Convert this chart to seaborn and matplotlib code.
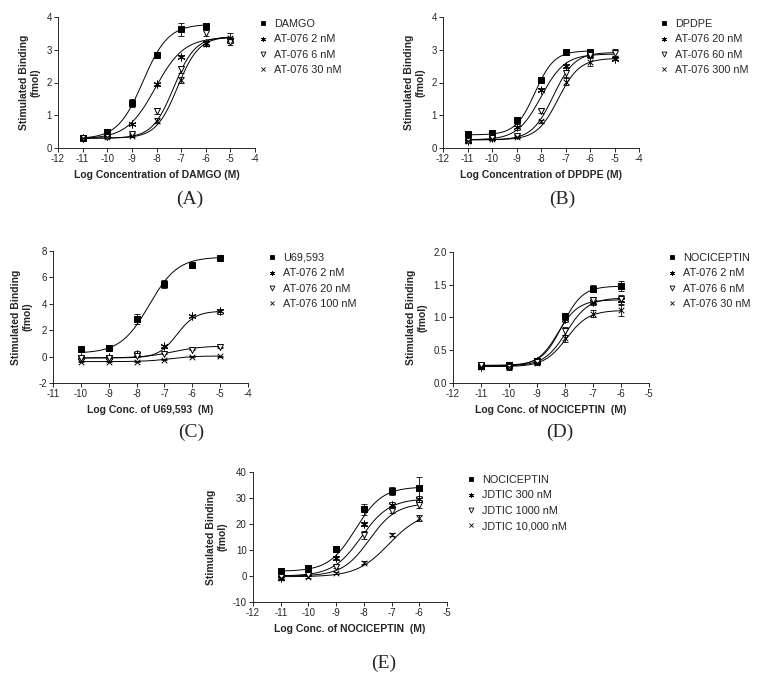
import numpy as np
import pandas as pd
import matplotlib
matplotlib.use("Agg")
import matplotlib.pyplot as plt
import seaborn as sns
from matplotlib.lines import Line2D

sns.set_style("ticks")
plt.rcParams['font.family'] = ['Liberation Sans', 'DejaVu Sans']
plt.rcParams['axes.unicode_minus'] = False

#--- (A) DAMGO --------------------------------------------------------------
A_labels = ["DAMGO", "AT-076 2 nM", "AT-076 6 nM", "AT-076 30 nM"]
A_x = [[-11, -10, -9, -8, -7, -6],
       [-11, -10, -9, -8, -7, -6, -5],
       [-11, -10, -9, -8, -7, -6, -5],
       [-11, -10, -9, -8, -7, -6, -5]]
A_y = [[0.31, 0.50, 1.38, 2.84, 3.63, 3.72],
       [0.30, 0.40, 0.73, 1.95, 2.79, 3.20, 3.30],
       [0.30, 0.35, 0.43, 1.13, 2.40, 3.52, 3.25],
       [0.30, 0.33, 0.37, 0.83, 2.08, 3.18, 3.35]]
A_err = [[0.03, 0.06, 0.13, 0.04, 0.20, 0.08],
         [0.02, 0.04, 0.04, 0.05, 0.05, 0.08, 0.10],
         [0.02, 0.03, 0.04, 0.08, 0.10, 0.10, 0.12],
         [0.02, 0.03, 0.03, 0.08, 0.10, 0.08, 0.15]]
# fitted curve parameters: bottom, top, logEC50, hill slope
A_fit = [(0.28, 3.78, -8.55, 0.85),
         (0.28, 3.38, -8.05, 0.75),
         (0.30, 3.40, -7.30, 1.00),
         (0.30, 3.40, -7.15, 1.00)]

#--- (B) DPDPE --------------------------------------------------------------
B_labels = ["DPDPE", "AT-076 20 nM", "AT-076 60 nM", "AT-076 300 nM"]
B_x = [[-11, -10, -9, -8, -7, -6],
       [-11, -10, -9, -8, -7, -6, -5],
       [-11, -10, -9, -8, -7, -6, -5],
       [-11, -10, -9, -8, -7, -6, -5]]
B_y = [[0.42, 0.45, 0.85, 2.08, 2.92, 2.93],
       [0.20, 0.30, 0.64, 1.78, 2.50, 2.83, 2.73],
       [0.22, 0.30, 0.36, 1.12, 2.28, 2.85, 2.90],
       [0.20, 0.28, 0.34, 0.82, 2.03, 2.62, 2.75]]
B_err = [[0.03, 0.03, 0.05, 0.05, 0.06, 0.06],
         [0.02, 0.03, 0.08, 0.05, 0.06, 0.06, 0.05],
         [0.02, 0.03, 0.04, 0.06, 0.10, 0.08, 0.13],
         [0.02, 0.03, 0.03, 0.05, 0.12, 0.12, 0.06]]
B_fit = [(0.40, 2.97, -8.25, 1.10),
         (0.25, 2.87, -8.00, 0.90),
         (0.25, 2.92, -7.50, 1.00),
         (0.25, 2.74, -7.30, 1.00)]

#--- (C) U69,593 ------------------------------------------------------------
C_labels = ["U69,593", "AT-076 2 nM", "AT-076 20 nM", "AT-076 100 nM"]
C_x = [[-10, -9, -8, -7, -6, -5]] * 4
C_y = [[0.58, 0.62, 2.85, 5.50, 6.94, 7.45],
       [-0.05, -0.05, 0.22, 0.78, 3.08, 3.42],
       [-0.10, -0.10, 0.02, 0.22, 0.52, 0.72],
       [-0.38, -0.38, -0.38, -0.22, -0.02, 0.03]]
C_err = [[0.06, 0.06, 0.40, 0.30, 0.08, 0.08],
         [0.05, 0.05, 0.20, 0.10, 0.10, 0.22],
         [0.03, 0.03, 0.03, 0.03, 0.04, 0.04],
         [0.03, 0.03, 0.03, 0.03, 0.03, 0.03]]
C_fit = [(0.25, 7.55, -7.55, 0.85),
         (-0.10, 3.45, -6.55, 1.30),
         (-0.10, 0.82, -6.70, 0.80),
         (-0.38, 0.05, -6.80, 1.00)]

#--- (D) NOCICEPTIN / AT-076 -------------------------------------------------
D_labels = ["NOCICEPTIN", "AT-076 2 nM", "AT-076 6 nM", "AT-076 30 nM"]
D_x = [[-11, -10, -9, -8, -7, -6]] * 4
D_y = [[0.28, 0.28, 0.34, 1.02, 1.44, 1.48],
       [0.25, 0.26, 0.33, 0.98, 1.24, 1.26],
       [0.27, 0.25, 0.32, 0.80, 1.26, 1.29],
       [0.24, 0.25, 0.30, 0.68, 1.06, 1.11]]
D_err = [[0.03, 0.04, 0.03, 0.05, 0.05, 0.08],
         [0.03, 0.03, 0.03, 0.05, 0.05, 0.05],
         [0.03, 0.05, 0.03, 0.06, 0.05, 0.05],
         [0.03, 0.03, 0.03, 0.06, 0.05, 0.08]]
D_fit = [(0.27, 1.48, -8.10, 1.20),
         (0.26, 1.27, -8.25, 1.20),
         (0.26, 1.30, -7.95, 1.10),
         (0.25, 1.11, -7.95, 1.10)]

#--- (E) NOCICEPTIN / JDTIC --------------------------------------------------
E_labels = ["NOCICEPTIN", "JDTIC 300 nM", "JDTIC 1000 nM", "JDTIC 10,000 nM"]
E_x = [[-11, -10, -9, -8, -7, -6]] * 4
E_y = [[1.8, 3.0, 10.3, 25.6, 32.8, 34.0],
       [-0.9, 1.0, 6.8, 20.0, 27.5, 29.5],
       [-0.2, 0.4, 3.6, 15.8, 25.1, 27.3],
       [-0.9, -0.5, 1.0, 5.1, 15.8, 22.3]]
E_err = [[0.5, 0.6, 0.8, 2.0, 1.5, 4.0],
         [0.5, 0.6, 0.8, 0.8, 0.8, 1.2],
         [0.4, 0.4, 0.6, 1.5, 0.8, 1.2],
         [0.4, 0.4, 0.4, 0.6, 0.6, 1.0]]
E_fit = [(1.8, 34.3, -8.30, 0.90),
         (0.0, 29.8, -8.10, 0.85),
         (0.0, 28.0, -7.80, 0.90),
         (-0.3, 24.8, -7.10, 0.75)]

W, H = 761, 676
MARKERS = ['s', (6, 2, 0), 'v', 'x']
FACES = ['black', 'black', 'white', 'black']
SIZES = [16, 26, 18, 16]

fig = plt.figure(figsize=(W / 100, H / 100), dpi=100)


def px_axes(l, t, r, b):
    return fig.add_axes([l / W, 1 - b / H, (r - l) / W, (b - t) / H])


def draw_panel(box, xs, ys, errs, fits, labels, xlim, ylim, yticks, ytfmt,
               xlabel, leg_xy, tag, tag_xy):
    ax = px_axes(*box)
    for i in range(len(labels)):
        xc = np.linspace(xs[i][0], xs[i][-1], 200)
        b, t, e, h = fits[i]
        curve = pd.DataFrame({"x": xc, "y": b + (t - b) / (1 + 10 ** ((e - xc) * h))})
        sns.lineplot(data=curve, x="x", y="y", ax=ax, color="black", lw=0.7)
        ax.errorbar(xs[i], ys[i], yerr=errs[i], fmt="none", ecolor="black",
                    elinewidth=0.6, capsize=2, capthick=0.6, zorder=2)
        sns.scatterplot(x=xs[i], y=ys[i], ax=ax, marker=MARKERS[i],
                        facecolor=FACES[i], edgecolor="black", color="black",
                        s=SIZES[i], linewidth=0.7, zorder=3)
    ax.set_xlim(*xlim)
    ax.set_ylim(*ylim)
    ax.set_xticks(range(xlim[0], xlim[1] + 1))
    ax.set_yticks(yticks)
    ax.set_yticklabels([ytfmt.format(v) for v in yticks])
    sns.despine(ax=ax)
    for s in ("left", "bottom"):
        ax.spines[s].set_linewidth(0.7)
    ax.tick_params(labelsize=7, length=3, width=0.7, pad=1.5)
    ax.set_xlabel(xlabel, fontsize=7.5, fontweight="bold", labelpad=4)
    ax.set_ylabel("Stimulated Binding\n(fmol)", fontsize=7.5, fontweight="bold",
                  labelpad=4, linespacing=1.2)

    handles = [Line2D([], [], ls="none", marker=MARKERS[i], markersize=3.5,
                      markerfacecolor=FACES[i], markeredgecolor="black",
                      markeredgewidth=0.6, color="black")
               for i in range(len(labels))]
    ax.legend(handles, labels, loc="upper left",
              bbox_to_anchor=(leg_xy[0] / W, 1 - leg_xy[1] / H),
              bbox_transform=fig.transFigure, frameon=False, fontsize=7.8,
              handlelength=0.8, handletextpad=0.6, labelspacing=0.5,
              borderpad=0, borderaxespad=0)
    fig.text(tag_xy[0] / W, 1 - tag_xy[1] / H, tag, fontsize=14,
             family="Liberation Serif", ha="center", va="center")
    return ax


draw_panel((58, 17, 255, 148), A_x, A_y, A_err, A_fit, A_labels, (-12, -4),
           (0, 4), [0, 1, 2, 3, 4], "{:g}", "Log Concentration of DAMGO (M)",
           (259, 19), "(A)", (190, 199))
draw_panel((443, 17, 639, 148), B_x, B_y, B_err, B_fit, B_labels, (-12, -4),
           (0, 4), [0, 1, 2, 3, 4], "{:g}", "Log Concentration of DPDPE (M)",
           (660, 19), "(B)", (562, 199))
draw_panel((53, 251, 248, 383), C_x, C_y, C_err, C_fit, C_labels, (-11, -4),
           (-2, 8), [-2, 0, 2, 4, 6, 8], "{:g}", "Log Conc. of U69,593  (M)",
           (268, 253), "(C)", (191, 432))
draw_panel((453, 252, 649, 383), D_x, D_y, D_err, D_fit, D_labels, (-12, -5),
           (0, 2), [0, 0.5, 1.0, 1.5, 2.0], "{:.1f}", "Log Conc. of NOCICEPTIN  (M)",
           (668, 253), "(D)", (560, 432))
draw_panel((253, 472, 447, 602), E_x, E_y, E_err, E_fit, E_labels, (-12, -5),
           (-10, 40), [-10, 0, 10, 20, 30, 40], "{:g}", "Log Conc. of NOCICEPTIN  (M)",
           (467, 475), "(E)", (384, 663))

fig.savefig("out.png", dpi=100, facecolor="white")
